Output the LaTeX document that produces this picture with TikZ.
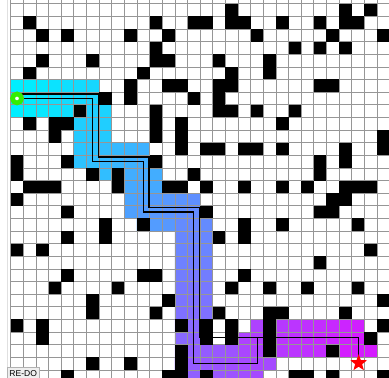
\documentclass[tikz,border=0pt]{standalone}
\usepackage{fontspec}
\setsansfont{Liberation Sans}
\usetikzlibrary{shapes.geometric}
\definecolor{TrailStart}{HTML}{00EEFF}
\definecolor{TrailEnd}{HTML}{D41CFF}
\definecolor{GridGray}{HTML}{969696}
\definecolor{StartGreen}{HTML}{33EE00}
\definecolor{GoalRed}{HTML}{FF0000}
\definecolor{ButtonGray}{HTML}{EFEFEF}
\tikzset{
    % Wall cell style
    wall/.style={fill=black},
    % Grid line style
    gridline/.style={draw=GridGray, line width=0.6pt},
    % Trail line style
    trail/.style={draw=black, line width=1.1pt},
    % Start marker
    startmark/.style={
        circle,
        draw=StartGreen,
        fill=white,
        line width=4pt,
        minimum size=0.27cm,
        inner sep=0pt
    },
    % Goal marker
    goalstar/.style={
        star,
        star points=5,
        star point ratio=2.4,
        fill=GoalRed,
        minimum size=0.53cm,
        inner sep=0pt
    },
    % Button style
    button/.style={
        rectangle,
        draw=black!30,
        fill=ButtonGray,
        minimum width=0.978cm,
        minimum height=0.364cm,
        inner sep=0pt,
        font=\sffamily\fontsize{7.3}{8}\selectfont
    }
}

\begin{document}
\begin{tikzpicture}[x=0.3789cm, y=-0.3789cm]
    \useasboundingbox[fill=white] (-0.847,-0.293) rectangle (29.953,29.557);
    \draw[black!12, line width=0.6pt] (-0.29,-0.3) -- (-0.29,29.6);

    % Coloured band round the trail
    \begin{scope}
        \clip (0,-1) rectangle (30,30);
        \foreach \xa/\ya/\dx/\dy/\n/\k in {0/7/1/0/6/0, 6/7/0/1/5/6, 6/12/1/0/4/11,
            10/12/0/1/4/15, 10/16/1/0/4/19, 14/16/0/1/12/23, 14/28/1/0/5/35,
            19/28/0/-1/2/40, 19/26/1/0/8/42, 27/26/0/1/1/50}{
            \foreach \t in {0,...,\n}{
                \pgfmathtruncatemacro{\shade}{100*(\k+\t)/51}
                \pgfmathtruncatemacro{\cx}{\xa+\t*\dx}
                \pgfmathtruncatemacro{\cy}{\ya+\t*\dy}
                \fill[fill={TrailEnd!\shade!TrailStart}]
                    (\cx,\cy) rectangle ++(1,1)
                    (\cx-1,\cy) rectangle ++(1,1)
                    (\cx+1,\cy) rectangle ++(1,1)
                    (\cx,\cy-1) rectangle ++(1,1)
                    (\cx,\cy+1) rectangle ++(1,1);
            }
        }
        \fill[white] (27,28) rectangle ++(1,1);
    \end{scope}

    % Grid
    \foreach \i in {0,...,30}
        \draw[gridline] (\i,-0.3) -- (\i,29.6);
    \foreach \j in {0,...,29}
        \draw[gridline] (0,\j) -- (30,\j);

    % Walls
    \foreach \c/\r in {17/0, 26/0, 28/0,
        1/1, 11/1, 14/1, 15/1, 17/1, 18/1, 21/1, 24/1, 26/1, 27/1,
        2/2, 4/2, 9/2, 12/2, 19/2, 25/2, 29/2,
        11/3, 22/3, 24/3, 26/3,
        2/4, 6/4, 11/4, 12/4, 16/4, 20/4,
        1/5, 10/5, 17/5, 20/5,
        9/6, 12/6, 13/6, 16/6, 17/6, 24/6, 25/6,
        7/7, 9/7, 14/7, 16/7,
        5/8, 11/8, 16/8, 17/8, 19/8, 22/8,
        1/9, 3/9, 4/9, 11/9, 13/9, 21/9,
        3/10, 11/10, 13/10, 29/10,
        13/11, 15/11, 16/11, 18/11, 19/11, 21/11, 26/11, 29/11,
        0/12, 4/12, 11/12, 24/12, 26/12,
        0/13, 6/13, 8/13, 14/13, 24/13,
        1/14, 2/14, 3/14, 8/14, 12/14, 13/14, 15/14, 18/14, 21/14, 23/14, 26/14, 27/14, 28/14,
        0/15, 25/15, 26/15,
        4/16, 15/16, 24/16, 25/16,
        7/17, 10/17, 18/17, 21/17, 27/17,
        4/18, 7/18, 16/18, 18/18,
        0/19, 2/19, 28/19,
        24/20,
        4/21, 10/21, 11/21, 18/21,
        3/22, 8/22, 17/22, 20/22, 23/22, 27/22,
        6/23, 12/23, 29/23,
        6/24, 11/24, 16/24, 20/24, 21/24, 26/24,
        0/25, 2/25, 13/25, 15/25, 17/25, 20/25, 29/25,
        2/26, 15/26, 17/26, 20/26, 28/26,
        13/27, 20/27, 25/27,
        6/28, 9/28, 13/28,
        4/29, 12/29, 13/29, 15/29, 22/29, 23/29, 25/29, 29/29}
        \fill[wall] (\c,\r) rectangle ++(1,1);

    % Trail
    \coordinate (startpt) at (0.5,7.5);
    \coordinate (laneB) at (0.5,7.14);
    \coordinate (goalpt) at (27.55,28.45);
    \draw[trail] (startpt) -- (6.5,7.5) -- (6.5,12.5) -- (10.5,12.5) -- (10.5,16.5)
        -- (14.5,16.5) -- (14.5,28.5) -- (19.55,28.5) -- (19.55,26.45)
        -- (27.55,26.45) -- (goalpt);
    \draw[trail] (laneB) -- (6.95,7.14) -- (6.95,12.14) -- (10.95,12.14) -- (10.95,16.14)
        -- (14.95,16.14) -- (14.95,26.45) -- (27.55,26.45);

    \node (start) [startmark] at (startpt) {};
    \node (goal) [goalstar] at (goalpt) {};

    \node (redo) [button, anchor=north west] at (-0.32,28.77) {RE-DO};
\end{tikzpicture}
\end{document}
